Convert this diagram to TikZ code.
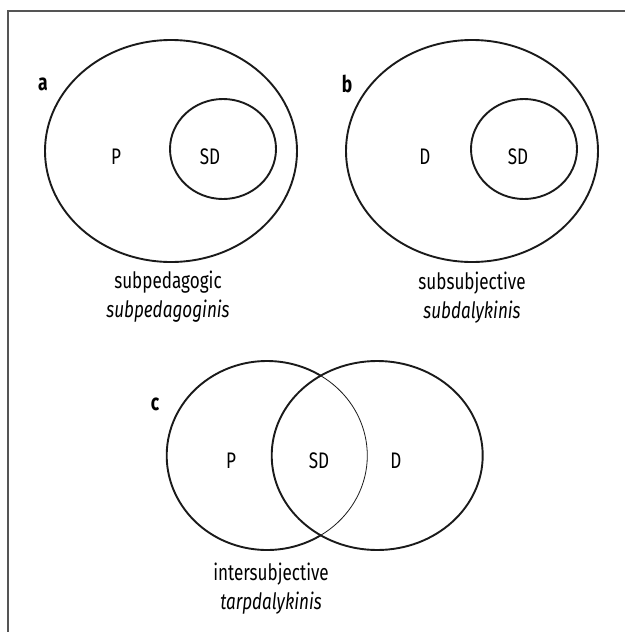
\documentclass[tikz,border=0pt]{standalone}
\usepackage{fontspec}
\setmainfont[FakeStretch=0.76]{Fira Sans}
\usepackage{tikz}
\usetikzlibrary{positioning}
\usepackage{xcolor}
\definecolor{frameline}{HTML}{555555}
\definecolor{setline}{HTML}{1A1A1A}

\begin{document}
\begin{tikzpicture}[x=1pt,y=-1pt,
    setedge/.style={setline,line width=1.9pt},
    thinedge/.style={setline,line width=0.8pt},
    setname/.style={font=\fontsize{22.5}{29}\selectfont},
    panelname/.style={font=\fontsize{23}{29}\selectfont\bfseries},
    caption/.style={font=\fontsize{22.5}{29}\selectfont, align=center}]
  \useasboundingbox (0,0) rectangle (625,632);
  \draw[frameline,line width=1.3pt] (8,632) -- (8,11) -- (625,11);

  % Panel a: SD inside P
  \draw[setedge] (171,151) ellipse [x radius=126, y radius=111];
  \draw[setedge] (223,149) ellipse [x radius=53, y radius=50];
  \node[panelname] (labA) at (43,84) {a};
  \node[setname] (setP1) at (116,157) {P};
  \node[setname] (setSD1) at (210,157) {SD};
  \node[caption] (capA) at (168,297) {subpedagogic\\ \textit{subpedagoginis}};

  % Panel b: SD inside D
  \draw[setedge] (472,151) ellipse [x radius=126, y radius=111];
  \draw[setedge] (524,149) ellipse [x radius=53, y radius=50];
  \node[panelname] (labB) at (347,84) {b};
  \node[setname] (setD2) at (425,157) {D};
  \node[setname] (setSD2) at (518,157) {SD};
  \node[caption] (capB) at (472,298) {subsubjective\\ \textit{subdalykinis}};

  % Panel c: P and D overlap in SD
  \draw[setedge] (377.2,455.5) ellipse [x radius=105.5, y radius=94.5];
  \draw[setedge] (267,455.5) ++(57.6:100.3 and 94.5)
    arc [start angle=57.6, end angle=302.4, x radius=100.3, y radius=94.5];
  \draw[thinedge] (267,455.5) ++(-57.6:100.3 and 94.5)
    arc [start angle=-57.6, end angle=57.6, x radius=100.3, y radius=94.5];
  \node[panelname] (labC) at (155,404) {c};
  \node[setname] (setP3) at (231,461) {P};
  \node[setname] (setSD3) at (319,461) {SD};
  \node[setname] (setD3) at (396,461) {D};
  \node[caption] (capC) at (271,589) {intersubjective\\ \textit{tarpdalykinis}};
\end{tikzpicture}
\end{document}
